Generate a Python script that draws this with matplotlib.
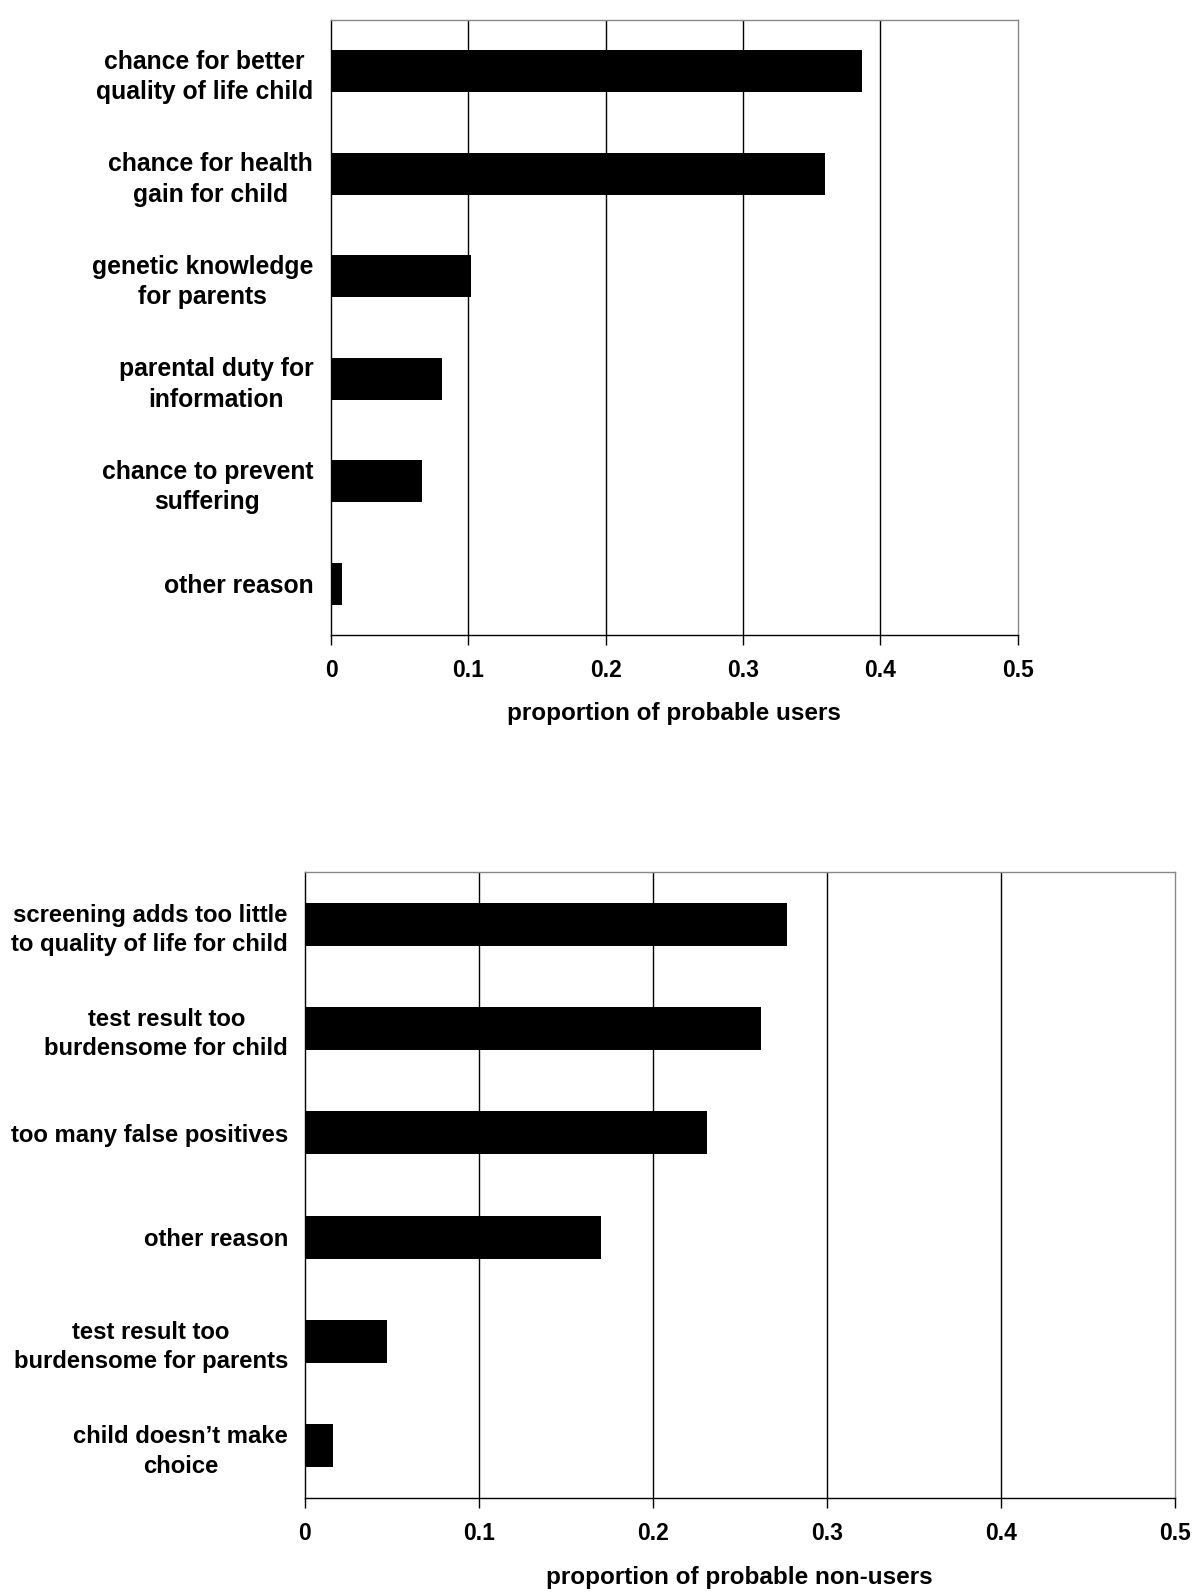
import matplotlib
matplotlib.use("Agg")
import matplotlib.pyplot as plt
from matplotlib import font_manager

users_labels = ["chance for better\nquality of life child", "chance for health\ngain for child",
                "genetic knowledge\nfor parents", "parental duty for\ninformation",
                "chance to prevent\nsuffering", "other reason"]
users_values = [0.387, 0.360, 0.102, 0.081, 0.066, 0.008]

non_labels = ["screening adds too little\nto quality of life for child", "test result too\nburdensome for child",
              "too many false positives", "other reason",
              "test result too\nburdensome for parents", "child doesn\u2019t make\nchoice"]
non_values = [0.277, 0.262, 0.231, 0.170, 0.047, 0.016]

xticks = [0, 0.1, 0.2, 0.3, 0.4, 0.5]
xtick_labels = ["0", "0.1", "0.2", "0.3", "0.4", "0.5"]

names = {f.name for f in font_manager.fontManager.ttflist}
narrow = "Liberation Sans Narrow" if "Liberation Sans Narrow" in names else "Liberation Sans"

fig = plt.figure(figsize=(12, 15.93), dpi=100)

def draw(ax, labels, values, xlabel, lfs, pad):
    y = list(range(len(labels)))
    ax.barh(y, values, height=0.41, color="black", zorder=3)
    ax.set_ylim(len(labels) - 0.5, -0.5)
    ax.set_xlim(0, 0.5)
    ax.set_yticks(y)
    ax.set_yticklabels(labels, fontsize=lfs, fontweight="bold", family="Liberation Sans",
                       ha="right", multialignment="center", linespacing=1.35)
    ax.tick_params(axis="y", length=0, pad=pad)
    ax.set_xticks(xticks)
    ax.set_xticklabels(xtick_labels, fontsize=16.5, fontweight="bold", family=narrow)
    ax.tick_params(axis="x", direction="out", length=7, width=1, pad=10, color="black")
    for xv in xticks[1:-1]:
        ax.axvline(xv, color="black", lw=1.0, zorder=1)
    ax.spines["top"].set_color("#888888")
    ax.spines["right"].set_color("#888888")
    ax.spines["left"].set_color("black")
    ax.spines["bottom"].set_color("black")
    for s in ax.spines.values():
        s.set_linewidth(1.0)
    ax.set_xlabel(xlabel, fontsize=17.5, fontweight="bold", family=narrow, labelpad=15)

ax1 = fig.add_axes([0.276, 0.6014, 0.572, 0.386])
draw(ax1, users_labels, users_values, "proportion of probable users", 17.8, 13)
ax2 = fig.add_axes([0.254, 0.0596, 0.725, 0.393])
draw(ax2, non_labels, non_values, "proportion of probable non-users", 17.2, 12)

fig.savefig("out.png", dpi=100, facecolor="white")
